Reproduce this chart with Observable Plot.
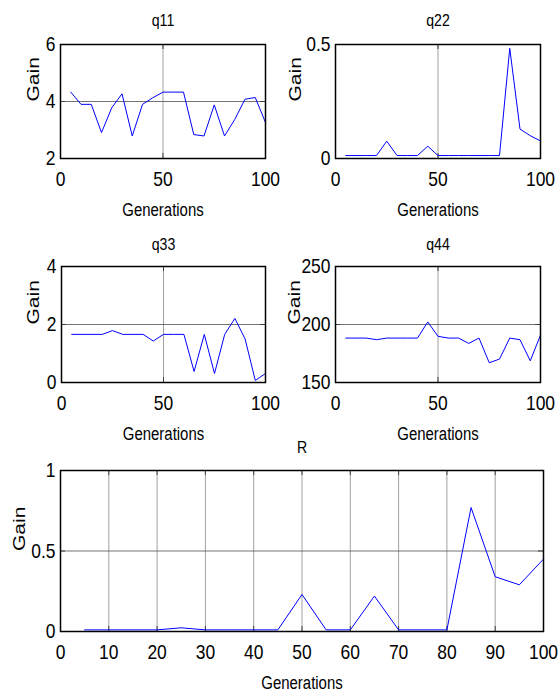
<!DOCTYPE html>
<html>
<head>
<meta charset="utf-8">
<script src="https://cdn.jsdelivr.net/npm/d3@7"></script>
<script src="https://cdn.jsdelivr.net/npm/@observablehq/plot@0.6"></script>
<style>
  html, body { margin: 0; padding: 0; background: #fff; }
  #root { position: relative; width: 560px; height: 691px; background: #fff; overflow: hidden; }
  #root > div { position: absolute; }
</style>
</head>
<body>
<div id="root"></div>
<script>
// ---- data ----
const generations = [5,10,15,20,25,30,35,40,45,50,55,60,65,70,75,80,85,90,95,100];
const q11 = [4.33,3.90,3.90,2.91,3.78,4.27,2.79,3.90,4.13,4.33,4.33,4.33,2.84,2.79,3.88,2.79,3.37,4.08,4.14,3.26];
const q22 = [0.013,0.013,0.013,0.013,0.076,0.013,0.013,0.013,0.054,0.013,0.013,0.013,0.013,0.013,0.013,0.013,0.483,0.129,0.100,0.077];
const q33 = [1.66,1.66,1.66,1.66,1.79,1.66,1.66,1.66,1.43,1.66,1.66,1.66,0.38,1.66,0.31,1.66,2.21,1.50,0.07,0.31];
const q44 = [188.3,188.3,188.3,186.9,188.3,188.3,188.3,188.3,202.2,189.8,188.3,188.3,183.7,188.3,167.0,170.2,188.3,186.9,168.7,190.9];
const R   = [0.01,0.01,0.01,0.01,0.023,0.01,0.01,0.01,0.01,0.23,0.01,0.01,0.22,0.01,0.01,0.01,0.77,0.34,0.29,0.45];

const smallXTicks = [0,50,100];
const bigXTicks = [0,10,20,30,40,50,60,70,80,90,100];
const q11YTicks = [2,4,6];
const q22YTicks = [0,0.5];
const q33YTicks = [0,2,4];
const q44YTicks = [150,200,250];
const RYTicks = [0,0.5,1];

const xLabel = "Generations";
const yLabel = "Gain";

const FONT = "'Liberation Sans',Arial,Helvetica,sans-serif";
const SQUASH = 0.83;

function panel(cfg) {
  const rows = generations.map((g, i) => ({g, v: cfg.values[i]}));
  const xDom = [cfg.xTicks[0], cfg.xTicks[cfg.xTicks.length - 1]];
  const yDom = [cfg.yTicks[0], cfg.yTicks[cfg.yTicks.length - 1]];
  const xIn = cfg.xTicks.filter(t => t > xDom[0] && t < xDom[1]);
  const yIn = cfg.yTicks.filter(t => t > yDom[0] && t < yDom[1]);
  const fw = cfg.width - cfg.ml - cfg.mr;
  const fh = cfg.height - cfg.mt - cfg.mb;
  const svg = Plot.plot({
    width: cfg.width, height: cfg.height,
    marginLeft: cfg.ml, marginRight: cfg.mr, marginTop: cfg.mt, marginBottom: cfg.mb,
    style: {fontFamily: FONT, background: "transparent", overflow: "visible", color: "black"},
    x: {domain: xDom},
    y: {domain: yDom},
    marks: [
      Plot.ruleX(xIn, {stroke: "#a0a0a0", strokeWidth: 1}),
      Plot.ruleY(yIn, {stroke: "#505050", strokeWidth: 0.8}),
      Plot.ruleX(xIn, {stroke: "#404040", insetTop: fh - 5}),
      Plot.ruleX(xIn, {stroke: "#404040", insetBottom: fh - 5}),
      Plot.ruleY(yIn, {stroke: "#404040", insetRight: fw - 5}),
      Plot.ruleY(yIn, {stroke: "#404040", insetLeft: fw - 5}),
      Plot.line(rows, {x: "g", y: "v", stroke: "#0000ff", strokeWidth: 1}),
      Plot.frame({stroke: "black", strokeWidth: 1.5}),
      Plot.axisX({ticks: cfg.xTicks, tickFormat: d => `${d}`, tickSize: 0, tickPadding: 13, fontSize: 21, label: null}),
      Plot.axisY({ticks: cfg.yTicks, tickFormat: d => `${d}`, tickSize: 0, tickPadding: 5, fontSize: 21, label: null}),
      Plot.text([cfg.title], {frameAnchor: "top", dy: -cfg.titleGap, fontSize: 17, lineAnchor: "bottom"}),
      Plot.text([xLabel], {frameAnchor: "bottom", dy: 57, fontSize: 18, lineAnchor: "bottom"}),
      Plot.text([yLabel], {frameAnchor: "left", dx: -cfg.gainGap, rotate: -90, fontSize: 21, className: "gainlabel"})
    ]
  });
  const holder = document.createElement("div");
  holder.style.left = cfg.left + "px";
  holder.style.top = cfg.top + "px";
  holder.appendChild(svg);
  document.getElementById("root").appendChild(holder);
  // the reference's lettering is horizontally condensed
  d3.select(svg).selectAll("text").each(function() {
    if (this.closest(".gainlabel")) {
      const t = this.getAttribute("transform") || "";
      this.setAttribute("transform", t + " scale(1,0.82)");
    } else {
      const len = this.getComputedTextLength();
      if (len > 0) {
        this.setAttribute("textLength", (len * SQUASH).toFixed(2));
        this.setAttribute("lengthAdjust", "spacingAndGlyphs");
      }
    }
  });
}

panel({values: q11, title: "q11", xTicks: smallXTicks, yTicks: q11YTicks, left: 0, top: 0, width: 280, height: 230, ml: 60, mr: 15, mt: 44, mb: 72, titleGap: 19, gainGap: 27});
panel({values: q22, title: "q22", xTicks: smallXTicks, yTicks: q22YTicks, left: 280, top: 0, width: 280, height: 230, ml: 55, mr: 20, mt: 44, mb: 72, titleGap: 19, gainGap: 40});
panel({values: q33, title: "q33", xTicks: smallXTicks, yTicks: q33YTicks, left: 0, top: 230, width: 280, height: 215, ml: 61, mr: 15, mt: 36, mb: 63, titleGap: 17, gainGap: 28});
panel({values: q44, title: "q44", xTicks: smallXTicks, yTicks: q44YTicks, left: 280, top: 230, width: 280, height: 215, ml: 55, mr: 20, mt: 36, mb: 63, titleGap: 17, gainGap: 41});
panel({values: R, title: "R", xTicks: bigXTicks, yTicks: RYTicks, left: 0, top: 445, width: 560, height: 246, ml: 60, mr: 17, mt: 25, mb: 60, titleGap: 18, gainGap: 41});
</script>
</body>
</html>
